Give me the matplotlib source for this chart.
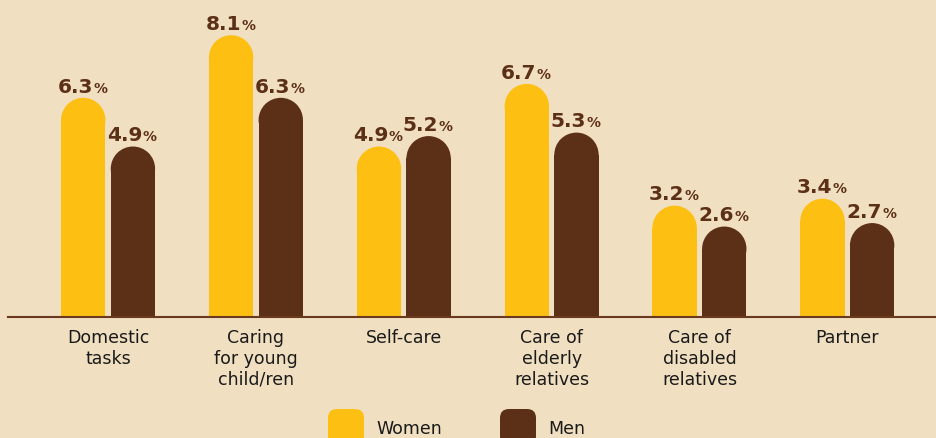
import matplotlib.pyplot as plt
from matplotlib.patches import Rectangle, Ellipse, FancyBboxPatch

categories = ['Domestic\ntasks', 'Caring\nfor young\nchild/ren', 'Self-care',
              'Care of\nelderly\nrelatives', 'Care of\ndisabled\nrelatives', 'Partner']
women = [6.3, 8.1, 4.9, 6.7, 3.2, 3.4]
men = [4.9, 6.3, 5.2, 5.3, 2.6, 2.7]
series = [('Women', women), ('Men', men)]

BG = '#F0DFC0'
COLORS = {'Women': '#FDBF12', 'Men': '#5C2F17'}
LABEL_C = '#5C2F17'
TEXT_C = '#1A1A1A'
FONT = 'DejaVu Sans'

W, H, DPI = 936, 439, 100
fig = plt.figure(figsize=(W / DPI, H / DPI), dpi=DPI, facecolor=BG)
ax = fig.add_axes([8 / W, 121 / H, 928 / W, 318 / H])
ax.set_facecolor(BG)
ax.set_xlim(-0.677, 5.60)
ax.set_ylim(0, 9.14)
for s in ['top', 'right', 'left']:
    ax.spines[s].set_visible(False)
ax.spines['bottom'].set_color('#6B3A1E')
ax.spines['bottom'].set_linewidth(1.5)
ax.set_yticks([])
ax.set_xticks(range(len(categories)))
ax.set_xticklabels(categories, fontsize=12.5, color=TEXT_C, family=FONT, linespacing=1.2)
ax.tick_params(axis='x', length=0, pad=8)

bw = 0.30
offsets = [-0.168, 0.168]

# radius of the round cap, in y units
px_x = ax.transData.transform((bw, 0))[0] - ax.transData.transform((0, 0))[0]
px_y = ax.transData.transform((0, 1))[1] - ax.transData.transform((0, 0))[1]
ry = (px_x / 2) / px_y

for (name, vals), off in zip(series, offsets):
    for i, v in enumerate(vals):
        x = i + off
        ax.add_patch(Rectangle((x - bw / 2, 0), bw, v - ry, color=COLORS[name], lw=0))
        ax.add_patch(Ellipse((x, v - ry), bw, 2 * ry, color=COLORS[name], lw=0))
        ax.annotate(f'{v:.1f}', (x, v), xytext=(7, 4.5), textcoords='offset points',
                    ha='right', va='baseline', fontsize=14.5, fontweight='bold',
                    color=LABEL_C, family=FONT)
        ax.annotate('%', (x, v), xytext=(7.2, 4.5), textcoords='offset points',
                    ha='left', va='baseline', fontsize=10, fontweight='semibold',
                    color=LABEL_C, family=FONT)

# legend drawn by hand, in inches (1 inch = 100 px)
for (name, _), lx in zip(series, [328, 500]):
    fig.add_artist(FancyBboxPatch((lx / DPI, (H - 446) / DPI), 0.36, 0.36,
                                  boxstyle='round,pad=0,rounding_size=0.09',
                                  transform=fig.dpi_scale_trans,
                                  color=COLORS[name], lw=0))
    fig.text((lx + 48) / W, (H - 434) / H, name, fontsize=12.5, color=TEXT_C,
             family=FONT, va='baseline')

fig.savefig('out.png', dpi=DPI, facecolor=BG)
